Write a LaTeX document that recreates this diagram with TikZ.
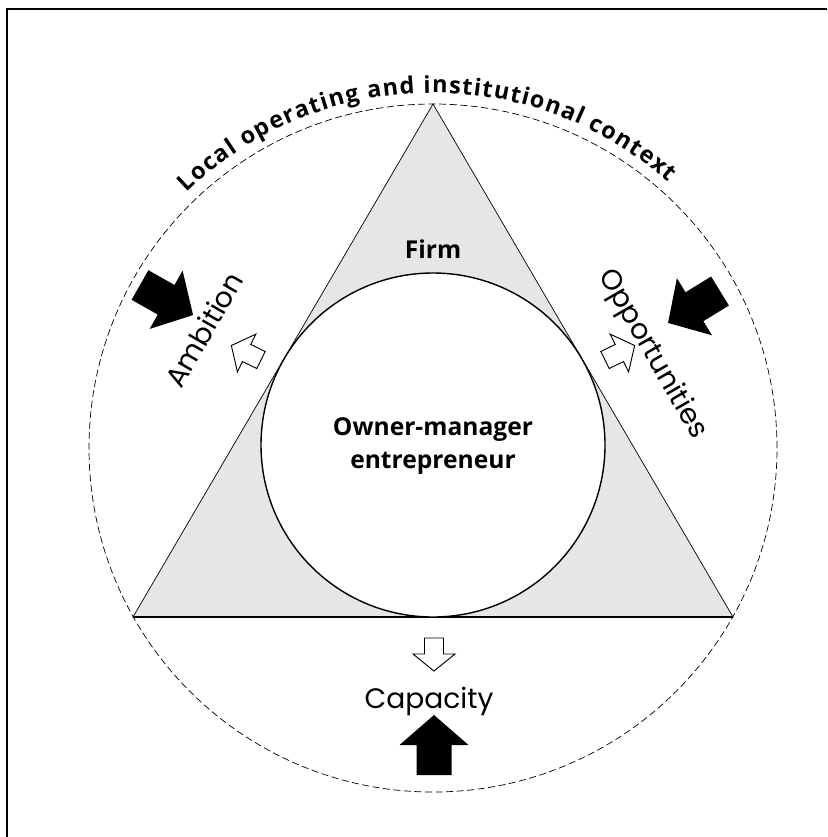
\documentclass[tikz,border=0pt]{standalone}
\usepackage{fontspec}
\newfontfamily\boldsans{Open Sans}
\newfontfamily\roundsans{Poppins}
\usetikzlibrary{decorations.text}
\definecolor{firmgray}{RGB}{230,230,230}
\tikzset{
  pics/blockarrow/.style n args={4}{code={
    \path[pic actions] (0,-#2/2) -- (#1-#4,-#2/2) -- (#1-#4,-#3/2) -- (#1,0)
      -- (#1-#4,#3/2) -- (#1-#4,#2/2) -- (0,#2/2) -- cycle;}},
  bigarrow/.style={fill=black},
  smallarrow/.style={draw=black,fill=white,line width=0.8pt,line join=miter},
  force/.style={font=\roundsans\fontsize{24}{24}\selectfont,inner sep=0pt},
  heading/.style={font=\boldsans\bfseries\fontsize{21}{28}\selectfont,align=center,inner sep=0pt}
}
\begin{document}
\begin{tikzpicture}[x=0.03cm,y=0.03cm]
        \useasboundingbox (0,0) rectangle (827,-837);
        \draw [line width=1.5pt] (7,-837) -- (7,-9) -- (827,-9);
        \coordinate (apex) at (433,-104);
        \coordinate (left) at (133,-617);
        \coordinate (right) at (733,-617);
        \coordinate (ctx) at (433,-448);
        \coordinate (own) at (433,-445);
        % context, firm, owner
        \draw [line width=0.6pt,dash pattern=on 6pt off 3pt] (ctx) circle (344);
        \draw [line width=0.6pt,fill=firmgray] (apex) -- (left) -- (right) -- cycle;
        \draw [line width=1.4pt] (left) -- (right);
        \draw [line width=1.2pt,fill=white] (own) circle (172);
        \path [decorate,decoration={text along path,text align=fit to path,
          text={|\boldsans\bfseries\fontsize{20}{20}\selectfont|Local operating and institutional context}}]
          (ctx) ++(134:355) arc [start angle=134,end angle=48.5,radius=355];
        \node [heading] (firm) at (433,-249) {Firm};
        \node [heading] (owner) at (433,-446) {Owner-manager\\entrepreneur};
        % forces
        \node [force,anchor=base west,rotate=60] (ambition) at (181,-390) {Ambition};
        \node [force,anchor=base west,rotate=-60] (opportunities) at (598,-275) {Opportunities};
        \node [force,anchor=base] (capacity) at (429,-708) {Capacity};
        \pic [bigarrow,rotate=-29.5] at (140,-285) {blockarrow={61}{34}{67}{31}};
        \pic [bigarrow,rotate=-148.4] at (720,-291) {blockarrow={61}{34}{67}{31}};
        \pic [bigarrow,rotate=90] at (434,-775) {blockarrow={60}{35}{69}{30}};
        \pic [smallarrow,rotate=154] at (261,-360) {blockarrow={33}{19}{42}{17}};
        \pic [smallarrow,rotate=26] at (605,-360) {blockarrow={33}{19}{42}{17}};
        \pic [smallarrow,rotate=-90] at (434,-638) {blockarrow={33}{19}{42}{17}};
    \end{tikzpicture}
\end{document}
